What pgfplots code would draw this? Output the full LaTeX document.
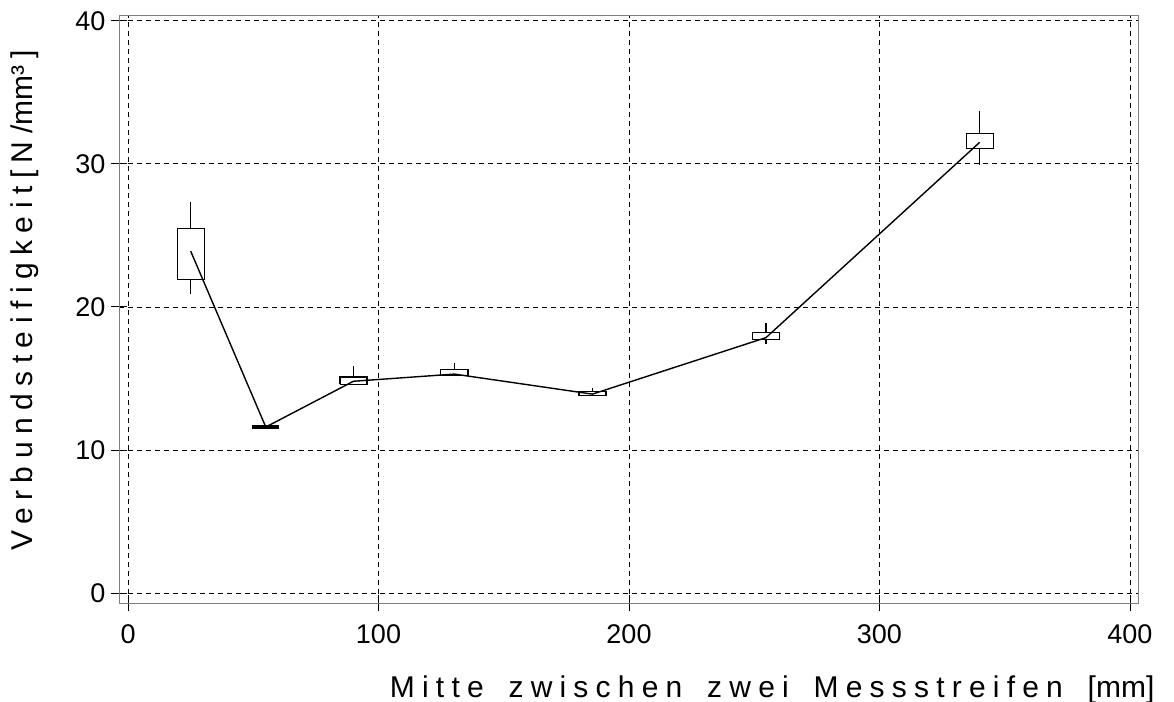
\documentclass[border=0pt]{standalone}
\usepackage{fontspec}
\setmainfont{Liberation Sans}
\newfontfamily\spacedx[LetterSpace=24,WordSpace=1.6]{Liberation Sans}
\newfontfamily\spacedy[LetterSpace=25]{Liberation Sans}
\usepackage{pgfplots}
\pgfplotsset{compat=1.18}

% Box: x-Mitte, Halbbreite 5.4, unteres und oberes Quartil
\newcommand{\quartilbox}[3]{%
  \addplot[black, line width=1.2pt, fill=white] coordinates {
    (#1-5.4,#2) (#1+5.4,#2) (#1+5.4,#3) (#1-5.4,#3) (#1-5.4,#2)};
}

\begin{document}
\begin{tikzpicture}
\useasboundingbox (-119pt,-98pt) rectangle (1055pt,603pt);
\begin{axis}[
  scale only axis,
  width=1019pt, height=588pt,
  xmin=-3.6, xmax=403.2,
  ymin=-0.7, ymax=40.4,
  xtick={0,100,...,400},
  ytick={0,10,...,40},
  grid=major,
  major grid style={black, line width=0.7pt, dash pattern=on 5pt off 4pt},
  axis line style={black!50, line width=0.9pt},
  tick align=center,
  major tick length=16pt,
  tick style={black, line width=0.8pt},
  xtick pos=bottom, ytick pos=left,
  font=\fontsize{27}{31}\selectfont,
  /pgf/number format/assume math mode=true,
  xticklabel style={yshift=-10pt},
  yticklabel style={xshift=-2pt},
  xlabel={\fontsize{30}{34}\selectfont\spacedx Mitte zwischen zwei Messstreifen [{\normalfont mm}]},
  ylabel={\fontsize{30}{34}\selectfont\spacedy Verbundsteifigkeit[N/{\normalfont mm}³]},
  xlabel style={at={(axis description cs:0.641,0)}, anchor=base, yshift=-94pt},
  ylabel style={at={(axis description cs:-0.0844,0.515)}, anchor=base},
]
% Whisker (unterer bis oberer Wert)
\addplot[draw=none, mark=none,
  error bars/.cd, y dir=both, y explicit,
  error mark=none, error bar style={black, line width=1.2pt}]
  coordinates {
  (25,24.1)    += (0,3.2)  -= (0,3.2)
  (90,15.25)   += (0,0.65) -= (0,0.65)
  (130.3,15.65)+= (0,0.45) -= (0,0.45)
  (185.4,14.05)+= (0,0.3)  -= (0,0.3)
  (254.7,18.15)+= (0,0.75) -= (0,0.75)
  (340,31.8)   += (0,1.9)  -= (0,1.9)
};
% Boxen (unteres / oberes Quartil)
\quartilbox{25}{21.9}{25.45}
\quartilbox{90}{14.6}{15.1}
\quartilbox{130.3}{15.2}{15.6}
\quartilbox{185.4}{13.78}{14.08}
\quartilbox{254.7}{17.7}{18.2}
\quartilbox{340}{31.05}{32.1}
% zusammengefallene Box bei 55 mm
\addplot[black, line width=3.5pt] coordinates {(49.6,11.6) (60.4,11.6)};

% Verbindungslinie
\addplot[black, line width=1.4pt, mark=none] coordinates {
  (25,23.9) (55,11.6) (90,14.8) (130.3,15.3) (185.4,13.9) (254.7,17.85) (340,31.5)
};
\end{axis}
\end{tikzpicture}
\end{document}
